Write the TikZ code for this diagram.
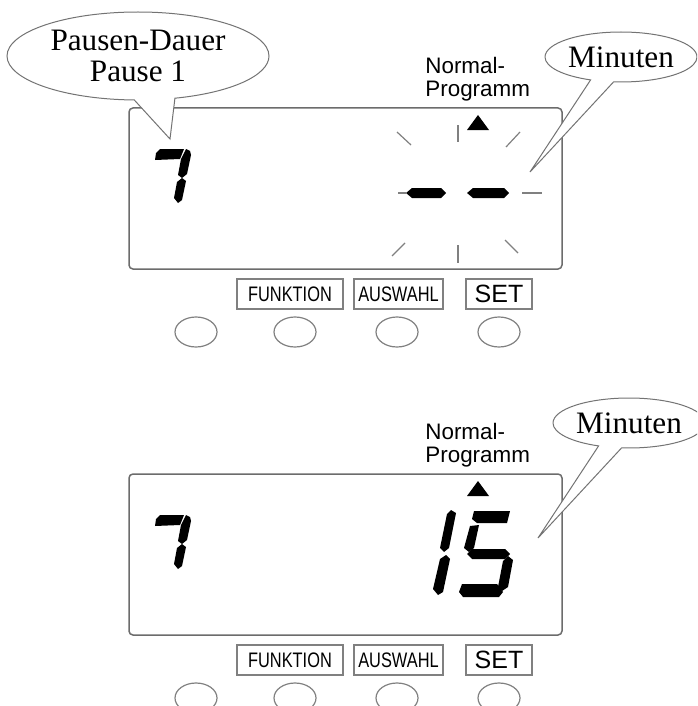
\documentclass[tikz,border=0pt]{standalone}
\usepackage{fontspec}
\setmainfont{Liberation Serif}
\setsansfont{Liberation Sans}
\newfontfamily\narrowsans[FakeStretch=0.78]{Liberation Sans}
\usetikzlibrary{shapes.geometric,shapes.callouts}

\begin{document}
\begin{tikzpicture}[x=0.5pt, y=-0.5pt,
		rahmen/.style={draw=gray!85!black, line width=0.75pt, rounded corners=2pt, inner sep=0pt},
		taste/.style={draw=gray, line width=0.6pt, inner sep=0pt, minimum height=15pt, font=\narrowsans\fontsize{10.5}{11}\selectfont},
		knopf/.style={draw=gray, line width=0.6pt, ellipse, minimum width=21pt, minimum height=15pt, inner sep=0pt},
		blase/.style={ellipse callout, draw=gray!90!black, fill=white, line width=0.5pt, inner sep=0pt, align=center, callout pointer arc=18, font=\fontsize{15.6}{15.5}\selectfont},
		segment/.style={fill=black},
		strahl/.style={draw=gray, line width=0.6pt}]

		% Frame of the picture
		\useasboundingbox (0,0) rectangle (697,706);
		\clip (0,0) rectangle (697,706);

		% Both panels (top: blinking, bottom: 15 minutes)
		\foreach \p/\dy/\dx in {oben/0/0, unten/366/8}{
			\begin{scope}[shift={(0,\dy)}]
				% Display
				\node[rahmen, minimum width=216.5pt, minimum height=80.5pt] (anzeige\p) at (345.5,188.5) {};

				% Digit 7 on the left
				\fill[segment] (155,160) -- (156,153) -- (160,149) -- (184,149) -- (180,159) -- cycle;
				\fill[segment] (186,149) -- (190,151) -- (191,155) -- (187,174) -- (182,178) -- (178,175) -- (181,159) -- cycle;
				\fill[segment] (182,178) -- (186,181) -- (182,200) -- (178,203) -- (174,198) -- (177,182) -- cycle;

				% Normal-Programm with marker
				\node[anchor=north west, inner sep=0pt, align=left, font=\sffamily\fontsize{11.2}{11.5}\selectfont] (modus\p) at (425,57) {Normal-\\Programm};
				\fill (467,130) -- (489,130) -- (478,115) -- cycle;

				% Keys
				\node[taste, minimum width=53pt] (funktion\p) at (290,294) {FUNKTION};
				\node[taste, minimum width=44.5pt] (auswahl\p) at (398.5,294) {AUSWAHL};
				\node[taste, minimum width=33pt, font=\sffamily\fontsize{12.5}{13}\selectfont] (set\p) at (499,294) {SET};
				\foreach \k/\kx in {a/196, b/295, c/397, d/499}
					\node[knopf] (knopf\k\p) at (\kx,332) {};
			\end{scope}

			% Callout Minuten
			\node[blase, minimum width=76pt, minimum height=25pt, callout absolute pointer={(530+\dx,172+\dy)}] (minuten\p) at (621+\dx,57+\dy) {Minuten};
		}

		% Callout Pausen-Dauer
		\node[blase, minimum width=131pt, minimum height=44pt, callout absolute pointer={(170,139)}] (pause) at (138,56) {Pausen-Dauer\\Pause 1};

		% Blinking minutes (top)
		\fill[segment] (406,193) -- (412,188) -- (441,188) -- (446,193) -- (441,198) -- (412,198) -- cycle;
		\fill[segment] (467,193) -- (473,188) -- (504,188) -- (509,193) -- (504,198) -- (473,198) -- cycle;

		% Rays round the minutes
		\draw[strahl] (458,125) -- (458,142);
		\draw[strahl] (458,245) -- (458,263);
		\draw[strahl] (397,132) -- (411,145);
		\draw[strahl] (506,147) -- (520,132);
		\draw[strahl] (522,193) -- (542,193);
		\draw[strahl] (398,193) -- (406,193);
		\draw[strahl] (392,256) -- (405,243);
		\draw[strahl] (505,240) -- (518,253);

		% Digits 15 (bottom)
		\fill[segment] (451,510) -- (456,513) -- (449,548) -- (444,552) -- (440,548) -- (447,514) -- cycle;
		\fill[segment] (446,555) -- (450,559) -- (443,592) -- (438,595) -- (433,589) -- (440,559) -- cycle;
		\fill[segment] (474,511) -- (510,511) -- (507,523) -- (477,523) -- (472,519) -- cycle;
		\fill[segment] (470,526) -- (479,525) -- (474,548) -- (469,552) -- (464,548) -- cycle;
		\fill[segment] (467,554) -- (472,549) -- (505,549) -- (510,554) -- (505,559) -- (472,559) -- cycle;
		\fill[segment] (508,556) -- (513,560) -- (508,587) -- (502,591) -- (498,587) -- (503,561) -- cycle;
		\fill[segment] (462,584) -- (497,584) -- (503,592) -- (499,597) -- (463,597) -- (459,592) -- cycle;

	\end{tikzpicture}
\end{document}
